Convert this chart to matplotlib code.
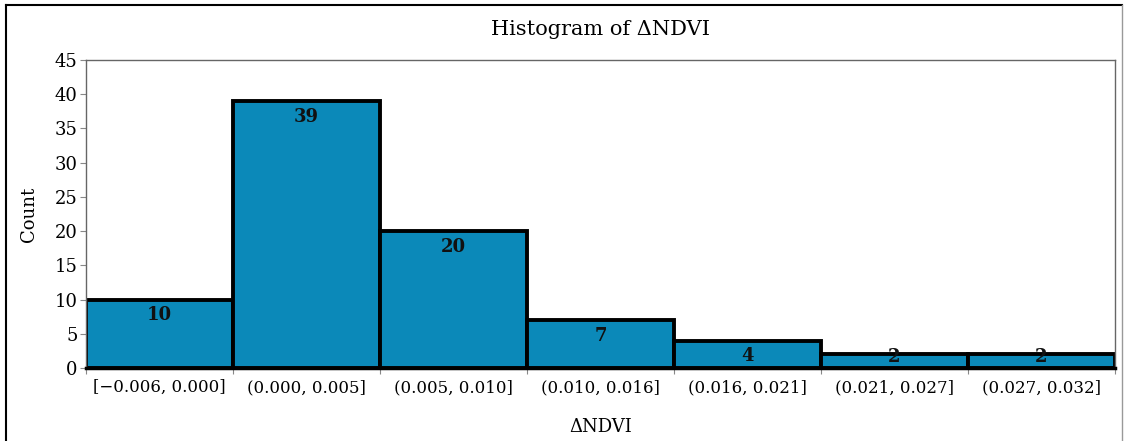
import matplotlib.pyplot as plt
import numpy as np
from matplotlib.lines import Line2D

bins = ["[\u22120.006, 0.000]", "(0.000, 0.005]", "(0.005, 0.010]", "(0.010, 0.016]",
        "(0.016, 0.021]", "(0.021, 0.027]", "(0.027, 0.032]"]
counts = [10, 39, 20, 7, 4, 2, 2]

plt.rcParams['font.family'] = ['DejaVu Serif']

fig = plt.figure(figsize=(11.25, 4.41), dpi=100)
ax = fig.add_axes([0.0764, 0.1655, 0.9147, 0.6985])

x = np.arange(len(counts))
ax.bar(x, counts, width=1.0, align='edge', color='#0b89b9', edgecolor='black', linewidth=2.8)

# count labels just below the top of each bar
for i, c in enumerate(counts):
    ypos = max(c - 2.3, 1.6)
    ax.text(i + 0.5, ypos, str(c), ha='center', va='center', fontsize=13,
            fontweight='bold', color='#111111')

ax.set_xlim(0, len(counts))
ax.set_ylim(0, 45)
ax.set_yticks(np.arange(0, 46, 5))
ax.set_xticks(np.arange(len(counts) + 1))
ax.set_xticklabels([])
ax.set_xticks(x + 0.5, minor=True)
ax.set_xticklabels(bins, minor=True)
ax.tick_params(axis='x', which='minor', length=0, labelsize=12, pad=8)
ax.tick_params(axis='x', which='major', length=4, color='#888888')
ax.tick_params(axis='y', labelsize=13, length=4, color='#888888', pad=2)

for s in ['top', 'right', 'left']:
    ax.spines[s].set_color('#666666')
    ax.spines[s].set_linewidth(1.0)
ax.spines['bottom'].set_linewidth(2.5)

ax.set_title('Histogram of \u0394NDVI', fontsize=15, pad=18)
ax.set_xlabel('\u0394NDVI', fontsize=13, labelpad=16)
ax.set_ylabel('Count', fontsize=13, labelpad=12)

# outer frame
fig.add_artist(Line2D([0.0053, 0.9973], [0.9887, 0.9887], color='black', lw=1.5))
fig.add_artist(Line2D([0.0053, 0.0053], [0.0, 0.9887], color='black', lw=1.5))
fig.add_artist(Line2D([0.9973, 0.9973], [0.0, 0.9887], color='#999999', lw=1.0))

fig.savefig('out.png', dpi=100)
